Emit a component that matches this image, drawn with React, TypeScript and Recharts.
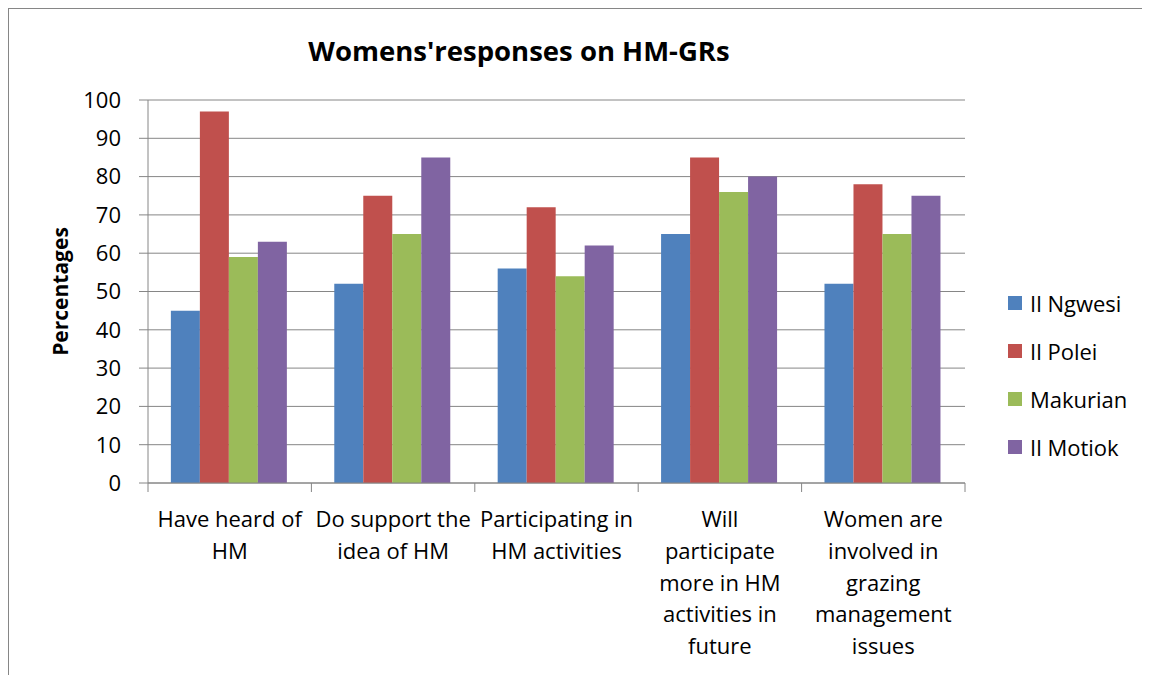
import { Bar, BarChart, CartesianGrid, Legend, XAxis, YAxis } from "recharts";

const categories = [
  "Have heard of\nHM",
  "Do support the\nidea of HM",
  "Participating in\nHM activities",
  "Will\nparticipate\nmore in HM\nactivities in\nfuture",
  "Women are\ninvolved in\ngrazing\nmanagement\nissues",
];
const ilNgwesi = [45, 52, 56, 65, 52];
const ilPolei = [97, 75, 72, 85, 78];
const makurian = [59, 65, 54, 76, 65];
const ilMotiok = [63, 85, 62, 80, 75];
const yTicks = [0, 10, 20, 30, 40, 50, 60, 70, 80, 90, 100];

const SERIES = [
  { key: "ngwesi", name: "Il Ngwesi", color: "#4F81BD" },
  { key: "polei", name: "Il Polei", color: "#C0504D" },
  { key: "makurian", name: "Makurian", color: "#9BBB59" },
  { key: "motiok", name: "Il Motiok", color: "#8064A2" },
];

const data = categories.map((c, i) => ({
  cat: c,
  ngwesi: ilNgwesi[i],
  polei: ilPolei[i],
  makurian: makurian[i],
  motiok: ilMotiok[i],
}));

const FONT = "'Open Sans', sans-serif";
const GRID = "#868686";
const W = 1141;
const H = 666;
const PLOT_LEFT = 139;
const PLOT_RIGHT = 956;
const PLOT_TOP = 91;
const PLOT_BOTTOM = 474;
const BAND = (PLOT_RIGHT - PLOT_LEFT) / categories.length;

function CatTick(props: any) {
  const { x, y, payload, index } = props;
  const lines = String(payload.value).split("\n");
  return (
    <g>
      <line x1={x - BAND / 2} x2={x - BAND / 2} y1={y} y2={y + 9} stroke={GRID} />
      {index === categories.length - 1 && (
        <line x1={x + BAND / 2} x2={x + BAND / 2} y1={y} y2={y + 9} stroke={GRID} />
      )}
      <text x={x} y={y + 44} textAnchor="middle" fill="#000" fontSize={22} fontFamily={FONT}>
        {lines.map((l, i) => (
          <tspan key={i} x={x} dy={i === 0 ? 0 : 31.8}>
            {l}
          </tspan>
        ))}
      </text>
    </g>
  );
}

function LegendBox() {
  return (
    <div style={{ fontFamily: FONT, fontSize: 22, color: "#000" }}>
      {SERIES.map((s) => (
        <div key={s.key} style={{ display: "flex", alignItems: "center", height: 48, whiteSpace: "nowrap" }}>
          <span style={{ width: 14, height: 14, background: s.color, marginRight: 8, display: "inline-block" }} />
          <span>{s.name}</span>
        </div>
      ))}
    </div>
  );
}

export default function App() {
  return (
    <div
      style={{
        position: "relative",
        width: W,
        height: H,
        borderLeft: `1px solid ${GRID}`,
        borderTop: `1px solid ${GRID}`,
        background: "#fff",
        overflow: "hidden",
      }}
    >
      <div
        style={{
          position: "absolute",
          left: 0,
          width: 1020,
          top: 23,
          textAlign: "center",
          fontFamily: FONT,
          fontWeight: 700,
          fontSize: 27.5,
          color: "#000",
          whiteSpace: "nowrap",
        }}
      >
        Womens'responses on HM-GRs
      </div>
      <BarChart
        width={W}
        height={H}
        data={data}
        margin={{ top: PLOT_TOP, right: W - PLOT_RIGHT, bottom: 0, left: 0 }}
        barCategoryGap="14%"
        barGap={0}
      >
        <CartesianGrid vertical={false} stroke={GRID} strokeWidth={1} />
        <XAxis
          dataKey="cat"
          height={H - PLOT_BOTTOM}
          interval={0}
          tickLine={false}
          tickSize={0}
          tickMargin={0}
          axisLine={{ stroke: GRID }}
          tick={<CatTick />}
        />
        <YAxis
          width={PLOT_LEFT}
          domain={[0, 100]}
          ticks={yTicks}
          interval={0}
          tickSize={9}
          tickMargin={18}
          tickLine={{ stroke: GRID }}
          axisLine={{ stroke: GRID }}
          tick={{ fill: "#000", fontSize: 22, fontFamily: FONT }}
          label={{
            content: () => (
              <text
                x={51}
                y={(PLOT_TOP + PLOT_BOTTOM) / 2}
                transform={`rotate(-90 51 ${(PLOT_TOP + PLOT_BOTTOM) / 2})`}
                textAnchor="middle"
                dominantBaseline="central"
                fontFamily={FONT}
                fontWeight={700}
                fontSize={21}
                fill="#000"
              >
                Percentages
              </text>
            ),
          }}
        />
        <Legend
          layout="horizontal"
          align="center"
          verticalAlign="middle"
          wrapperStyle={{ left: 999, top: 270, width: 140, height: 200 }}
          content={() => <LegendBox />}
        />
        {SERIES.map((s) => (
          <Bar key={s.key} dataKey={s.key} name={s.name} fill={s.color} isAnimationActive={false} />
        ))}
      </BarChart>
    </div>
  );
}
